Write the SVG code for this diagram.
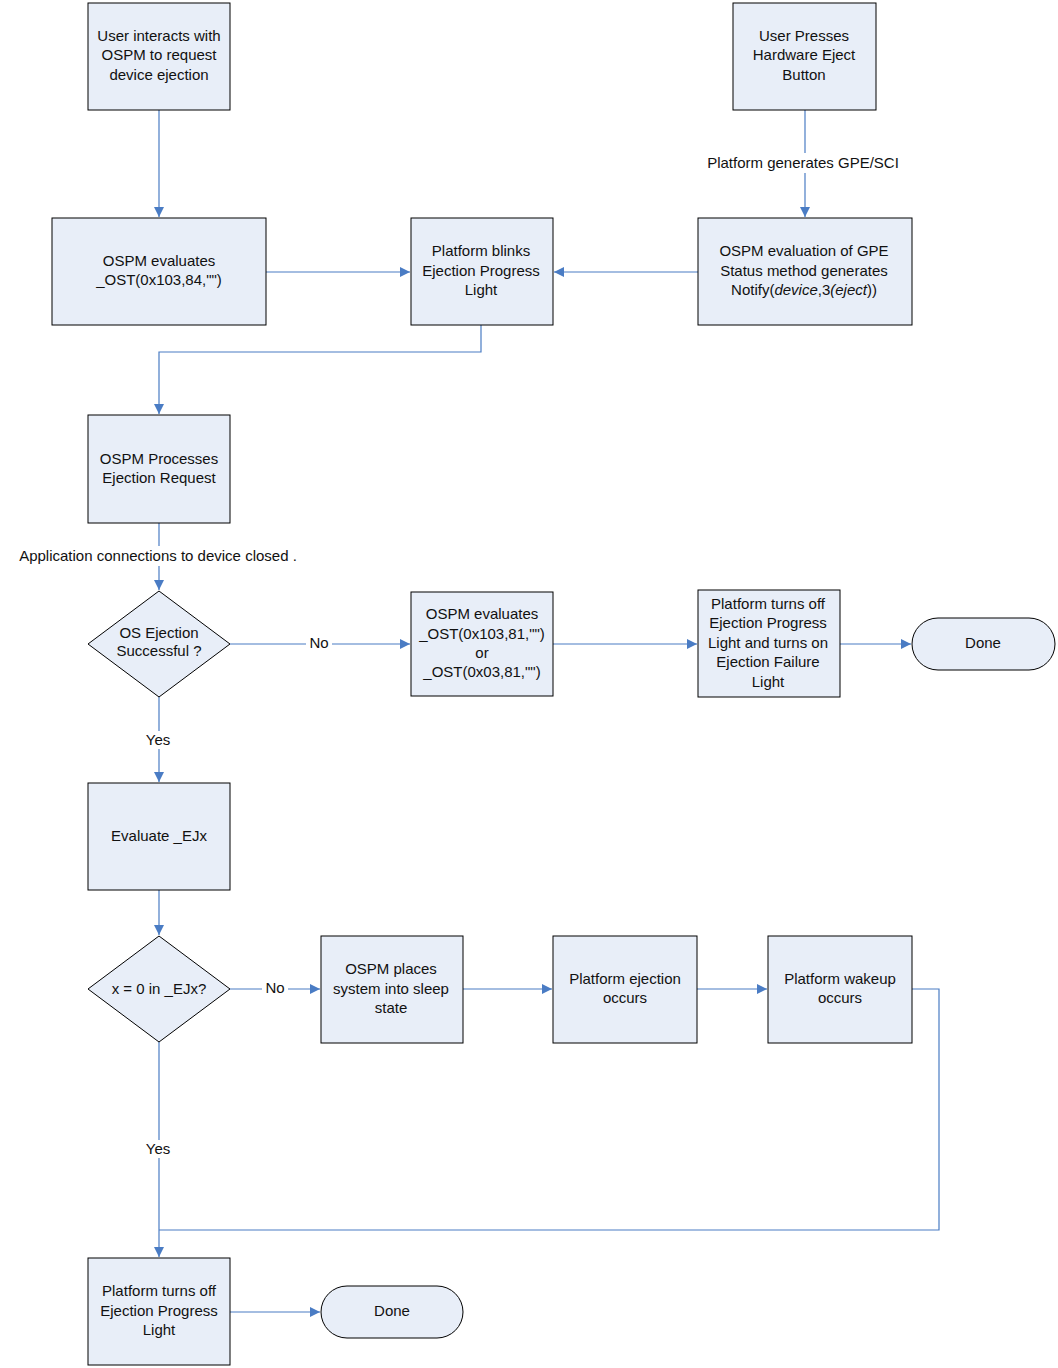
<svg xmlns="http://www.w3.org/2000/svg" width="1058" height="1368" viewBox="0 0 1058 1368">
<style>
.n{fill:#e8eef8;stroke:#000;stroke-width:1}
.t{font-family:"Liberation Sans",Arial,sans-serif;font-size:15px;fill:#111;text-anchor:middle}
.c{fill:none;stroke:#4a7cc4;stroke-width:1.2}
.l{font-family:"Liberation Sans",Arial,sans-serif;font-size:15px;fill:#111;text-anchor:middle}
.bg{fill:#fff}
</style>
<defs><marker id="a" viewBox="0 0 10 10" refX="10" refY="5" markerWidth="10" markerHeight="10" markerUnits="userSpaceOnUse" orient="auto"><path d="M0,0L10,5L0,10z" fill="#4a7cc4"/></marker></defs>
<rect width="1058" height="1368" fill="#fff"/>
<g id="connectors">
<path class="c" d="M159,110V217" marker-end="url(#a)"/>
<path class="c" d="M805,110V217" marker-end="url(#a)"/>
<path class="c" d="M266,272H410" marker-end="url(#a)"/>
<path class="c" d="M698,272H554" marker-end="url(#a)"/>
<path class="c" d="M481,325V352H159V414" marker-end="url(#a)"/>
<path class="c" d="M159,523V590" marker-end="url(#a)"/>
<path class="c" d="M230,644H410" marker-end="url(#a)"/>
<path class="c" d="M553,644H697" marker-end="url(#a)"/>
<path class="c" d="M840,644H911" marker-end="url(#a)"/>
<path class="c" d="M159,697V782" marker-end="url(#a)"/>
<path class="c" d="M159,890V935" marker-end="url(#a)"/>
<path class="c" d="M230,989H320" marker-end="url(#a)"/>
<path class="c" d="M463,989H552" marker-end="url(#a)"/>
<path class="c" d="M697,989H767" marker-end="url(#a)"/>
<path class="c" d="M912,989H939V1230H159" />
<path class="c" d="M159,1042V1257" marker-end="url(#a)"/>
<path class="c" d="M230,1312H320" marker-end="url(#a)"/>
<rect class="bg" x="698" y="153" width="210" height="20"/>
<text class="l" x="803" y="168">Platform generates GPE/SCI</text>
<rect class="bg" x="10" y="546" width="296" height="20"/>
<text class="l" x="158" y="561">Application connections to device closed .</text>
<rect class="bg" x="306" y="634" width="26" height="18"/>
<text class="l" x="319" y="648">No</text>
<rect class="bg" x="142" y="731" width="32" height="18"/>
<text class="l" x="158" y="745">Yes</text>
<rect class="bg" x="262" y="979" width="26" height="18"/>
<text class="l" x="275" y="993">No</text>
<rect class="bg" x="142" y="1140" width="32" height="18"/>
<text class="l" x="158" y="1154">Yes</text>
</g>
<g id="n1"><rect class="n" x="88" y="3" width="142" height="107"/><text class="t" x="159" y="41">User interacts with</text><text class="t" x="159" y="60">OSPM to request</text><text class="t" x="159" y="80">device ejection</text></g>
<g id="n2"><rect class="n" x="733" y="3" width="143" height="107"/><text class="t" x="804" y="41">User Presses</text><text class="t" x="804" y="60">Hardware Eject</text><text class="t" x="804" y="80">Button</text></g>
<g id="n3"><rect class="n" x="52" y="218" width="214" height="107"/><text class="t" x="159" y="266">OSPM evaluates</text><text class="t" x="159" y="285">_OST(0x103,84,"")</text></g>
<g id="n4"><rect class="n" x="411" y="218" width="142" height="107"/><text class="t" x="481" y="256">Platform blinks</text><text class="t" x="481" y="276">Ejection Progress</text><text class="t" x="481" y="295">Light</text></g>
<g id="n5"><rect class="n" x="698" y="218" width="214" height="107"/><text class="t" x="804" y="256">OSPM evaluation of GPE</text><text class="t" x="804" y="276">Status method generates</text><text class="t" x="804" y="295">Notify(<tspan font-style="italic">device</tspan>,3<tspan font-style="italic">(eject</tspan>))</text></g>
<g id="n6"><rect class="n" x="88" y="415" width="142" height="108"/><text class="t" x="159" y="464">OSPM Processes</text><text class="t" x="159" y="483">Ejection Request</text></g>
<g id="n7"><path class="n" d="M159,591L230,644L159,697L88,644Z"/><text class="t" x="159" y="638">OS Ejection</text><text class="t" x="159" y="656">Successful ?</text></g>
<g id="n8"><rect class="n" x="411" y="592" width="142" height="104"/><text class="t" x="482" y="619">OSPM evaluates</text><text class="t" x="482" y="639">_OST(0x103,81,"")</text><text class="t" x="482" y="658">or</text><text class="t" x="482" y="677">_OST(0x03,81,"")</text></g>
<g id="n9"><rect class="n" x="698" y="590" width="142" height="107"/><text class="t" x="768" y="609">Platform turns off</text><text class="t" x="768" y="628">Ejection Progress</text><text class="t" x="768" y="648">Light and turns on</text><text class="t" x="768" y="667">Ejection Failure</text><text class="t" x="768" y="687">Light</text></g>
<g id="n10"><rect class="n" x="912" y="618" width="143" height="52" rx="26"/><text class="t" x="983" y="648">Done</text></g>
<g id="n11"><rect class="n" x="88" y="783" width="142" height="107"/><text class="t" x="159" y="841">Evaluate _EJx</text></g>
<g id="n12"><path class="n" d="M159,936L230,989L159,1042L88,989Z"/><text class="t" x="159" y="994">x = 0 in _EJx?</text></g>
<g id="n13"><rect class="n" x="321" y="936" width="142" height="107"/><text class="t" x="391" y="974">OSPM places</text><text class="t" x="391" y="994">system into sleep</text><text class="t" x="391" y="1013">state</text></g>
<g id="n14"><rect class="n" x="553" y="936" width="144" height="107"/><text class="t" x="625" y="984">Platform ejection</text><text class="t" x="625" y="1003">occurs</text></g>
<g id="n15"><rect class="n" x="768" y="936" width="144" height="107"/><text class="t" x="840" y="984">Platform wakeup</text><text class="t" x="840" y="1003">occurs</text></g>
<g id="n16"><rect class="n" x="88" y="1258" width="142" height="107"/><text class="t" x="159" y="1296">Platform turns off</text><text class="t" x="159" y="1316">Ejection Progress</text><text class="t" x="159" y="1335">Light</text></g>
<g id="n17"><rect class="n" x="321" y="1286" width="142" height="52" rx="26"/><text class="t" x="392" y="1316">Done</text></g>
</svg>
